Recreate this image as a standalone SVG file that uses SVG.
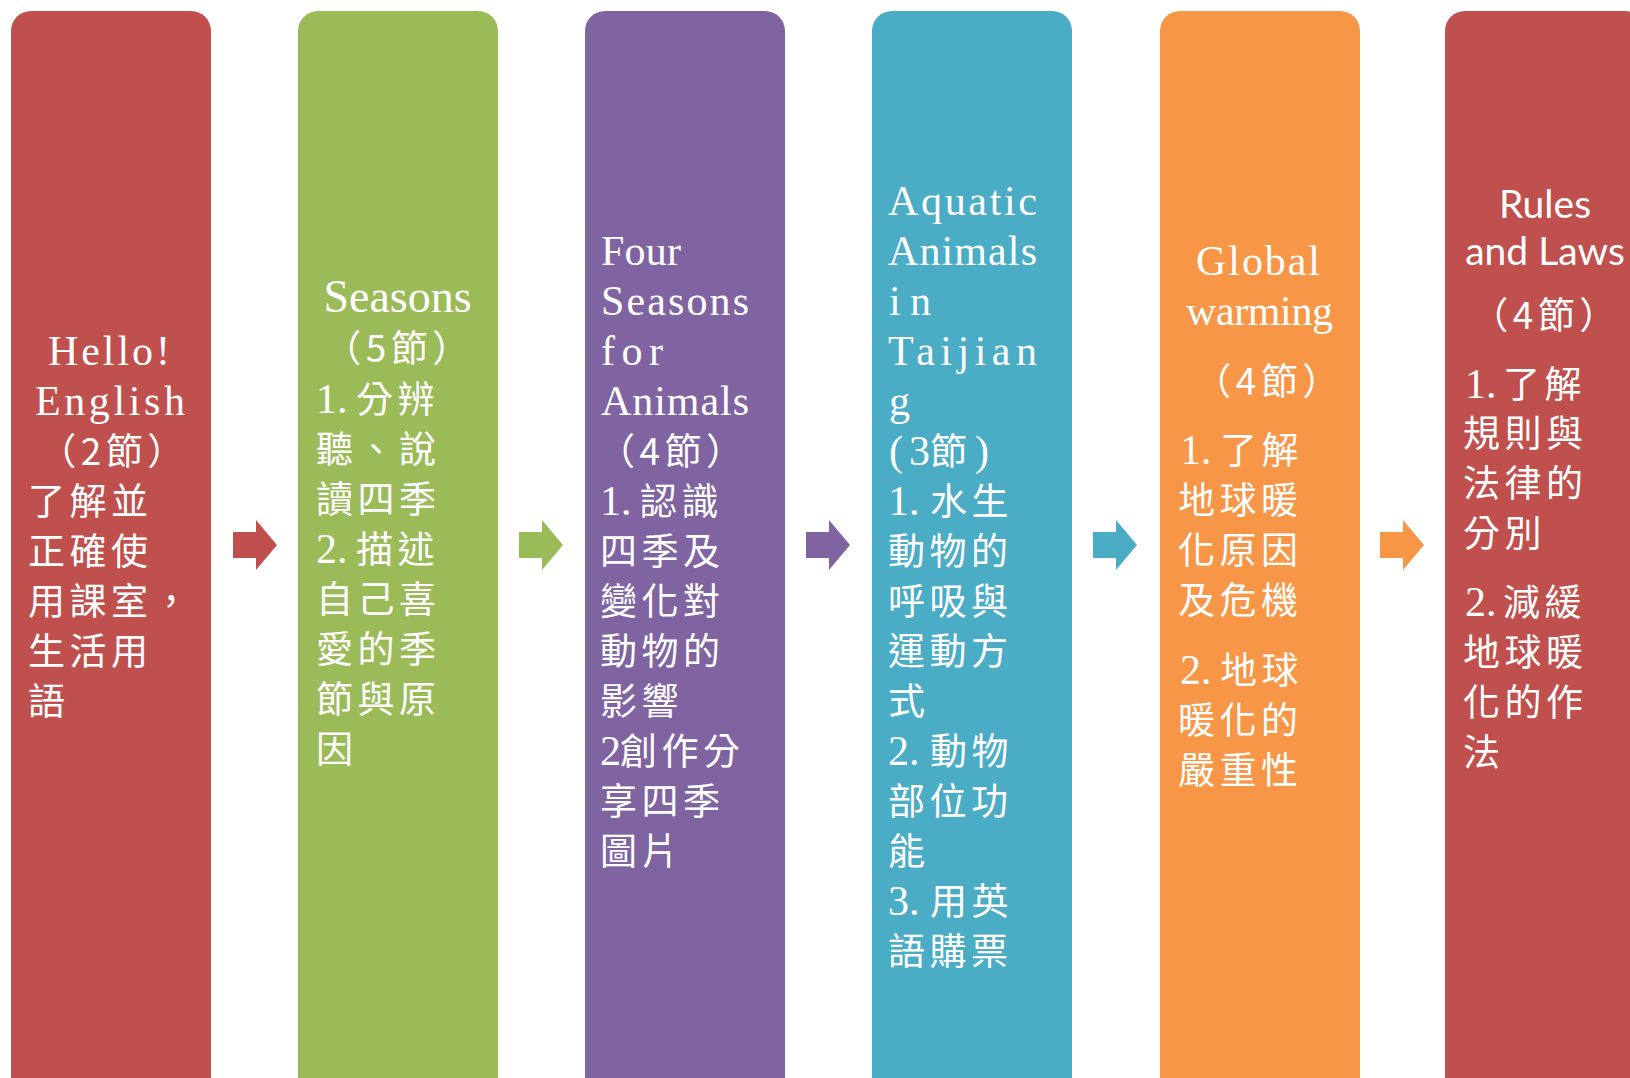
<svg xmlns="http://www.w3.org/2000/svg" width="1630" height="1078" viewBox="0 0 1630 1078">
<style>
  .col { stroke: none; }
  .cjk { font-family: "Noto Sans CJK TC", "Noto Sans CJK JP", sans-serif; font-size: 37px; letter-spacing: 4.5px; fill: #ffffff; }
  .lat { font-family: "Liberation Serif", "DejaVu Serif", serif; font-size: 42px; fill: #ffffff; }
  .tnr { font-family: "Liberation Serif", "DejaVu Serif", serif; font-size: 46px; fill: #ffffff; }
  .sans { font-family: Lato, "Liberation Sans", sans-serif; font-size: 39px; fill: #ffffff; }
  .mid { text-anchor: middle; }
</style>
<defs>
  <path id="arrow" d="M0,-13 H23 V-25 L44,0 L23,25 V13 H0 Z"/>
</defs>
<rect width="1630" height="1078" fill="#ffffff"/>

<g id="node-1">
  <rect class="col" x="11" y="11" width="200" height="1120" rx="20" fill="#C0504D"/>
  <text class="lat mid" x="109" y="365" textLength="122" lengthAdjust="spacing">Hello!</text>
  <text class="lat mid" x="110" y="415" textLength="150" lengthAdjust="spacing">English</text>
  <text class="cjk mid" x="114" y="465">（2節）</text>
  <text class="cjk" x="28" y="515">了解並</text>
  <text class="cjk" x="28" y="565">正確使</text>
  <text class="cjk" x="28" y="615">用課室，</text>
  <text class="cjk" x="28" y="665">生活用</text>
  <text class="cjk" x="28" y="715">語</text>
</g>

<g id="node-2">
  <rect class="col" x="298" y="11" width="200" height="1120" rx="20" fill="#9BBB59"/>
  <text class="tnr mid" x="397.5" y="312">Seasons</text>
  <text class="cjk mid" x="399" y="362">（5節）</text>
  <text x="316" y="413"><tspan class="lat">1.</tspan><tspan class="cjk" x="356">分辨</tspan></text>
  <text class="cjk" x="316" y="463">聽、說</text>
  <text class="cjk" x="316" y="513">讀四季</text>
  <text x="316" y="563"><tspan class="lat">2.</tspan><tspan class="cjk" x="356">描述</tspan></text>
  <text class="cjk" x="316" y="613">自己喜</text>
  <text class="cjk" x="316" y="663">愛的季</text>
  <text class="cjk" x="316" y="713">節與原</text>
  <text class="cjk" x="316" y="763">因</text>
</g>

<g id="node-3">
  <rect class="col" x="585" y="11" width="200" height="1120" rx="20" fill="#8064A2"/>
  <text class="lat" x="601" y="265" textLength="80" lengthAdjust="spacing">Four</text>
  <text class="lat" x="601" y="315" textLength="148" lengthAdjust="spacing">Seasons</text>
  <text class="lat" x="601" y="365" textLength="62" lengthAdjust="spacing">for</text>
  <text class="lat" x="601" y="415" textLength="148" lengthAdjust="spacing">Animals</text>
  <text class="cjk" x="598" y="465">（4節）</text>
  <text x="600" y="515"><tspan class="lat">1.</tspan><tspan class="cjk" x="640">認識</tspan></text>
  <text class="cjk" x="600" y="565">四季及</text>
  <text class="cjk" x="600" y="615">變化對</text>
  <text class="cjk" x="600" y="665">動物的</text>
  <text class="cjk" x="600" y="715">影響</text>
  <text x="600" y="765"><tspan class="lat">2</tspan><tspan class="cjk" x="620">創作分</tspan></text>
  <text class="cjk" x="600" y="815">享四季</text>
  <text class="cjk" x="600" y="865">圖片</text>
</g>

<g id="node-4">
  <rect class="col" x="872" y="11" width="200" height="1120" rx="20" fill="#4BACC6"/>
  <text class="lat" x="888" y="215" textLength="149" lengthAdjust="spacing">Aquatic</text>
  <text class="lat" x="888" y="265" textLength="149" lengthAdjust="spacing">Animals</text>
  <text class="lat" x="889" y="315" textLength="42" lengthAdjust="spacing">in</text>
  <text class="lat" x="888" y="365" textLength="149" lengthAdjust="spacing">Taijian</text>
  <text class="lat" x="889" y="415">g</text>
  <text x="889" y="465"><tspan class="lat">(</tspan><tspan class="lat" x="909">3</tspan><tspan class="cjk" x="930">節</tspan><tspan class="lat" x="975">)</tspan></text>
  <text x="888" y="515"><tspan class="lat">1.</tspan><tspan class="cjk" x="930">水生</tspan></text>
  <text class="cjk" x="888" y="565">動物的</text>
  <text class="cjk" x="888" y="615">呼吸與</text>
  <text class="cjk" x="888" y="665">運動方</text>
  <text class="cjk" x="888" y="715">式</text>
  <text x="888" y="765"><tspan class="lat">2.</tspan><tspan class="cjk" x="930">動物</tspan></text>
  <text class="cjk" x="888" y="815">部位功</text>
  <text class="cjk" x="888" y="865">能</text>
  <text x="888" y="915"><tspan class="lat">3.</tspan><tspan class="cjk" x="930">用英</tspan></text>
  <text class="cjk" x="888" y="965">語購票</text>
</g>

<g id="node-5">
  <rect class="col" x="1160" y="11" width="200" height="1120" rx="20" fill="#F79646"/>
  <text class="lat mid" x="1258" y="275" textLength="124" lengthAdjust="spacing">Global</text>
  <text class="lat mid" x="1259.5" y="325" textLength="147" lengthAdjust="spacing">warming</text>
  <text class="cjk mid" x="1269" y="395">（4節）</text>
  <text x="1180" y="464"><tspan class="lat">1.</tspan><tspan class="cjk" x="1220">了解</tspan></text>
  <text class="cjk" x="1178" y="514">地球暖</text>
  <text class="cjk" x="1178" y="564">化原因</text>
  <text class="cjk" x="1178" y="614">及危機</text>
  <text x="1180" y="684"><tspan class="lat">2.</tspan><tspan class="cjk" x="1220">地球</tspan></text>
  <text class="cjk" x="1178" y="734">暖化的</text>
  <text class="cjk" x="1178" y="784">嚴重性</text>
</g>

<g id="node-6">
  <rect class="col" x="1445" y="11" width="200" height="1120" rx="20" fill="#C0504D"/>
  <text class="sans mid" x="1545" y="218">Rules</text>
  <text class="sans mid" x="1545" y="265">and Laws</text>
  <text class="cjk mid" x="1546" y="329">（4節）</text>
  <text x="1465" y="398"><tspan class="lat">1.</tspan><tspan class="cjk" x="1503">了解</tspan></text>
  <text class="cjk" x="1463" y="447">規則與</text>
  <text class="cjk" x="1463" y="497">法律的</text>
  <text class="cjk" x="1463" y="547">分別</text>
  <text x="1465" y="616"><tspan class="lat">2.</tspan><tspan class="cjk" x="1503">減緩</tspan></text>
  <text class="cjk" x="1463" y="666">地球暖</text>
  <text class="cjk" x="1463" y="716">化的作</text>
  <text class="cjk" x="1463" y="766">法</text>
</g>

<g id="connectors">
  <use href="#arrow" x="233" y="545" fill="#C0504D"/>
  <use href="#arrow" x="519" y="545" fill="#9BBB59"/>
  <use href="#arrow" x="806" y="545" fill="#8064A2"/>
  <use href="#arrow" x="1093" y="545" fill="#4BACC6"/>
  <use href="#arrow" x="1380" y="545" fill="#F79646"/>
</g>
</svg>
